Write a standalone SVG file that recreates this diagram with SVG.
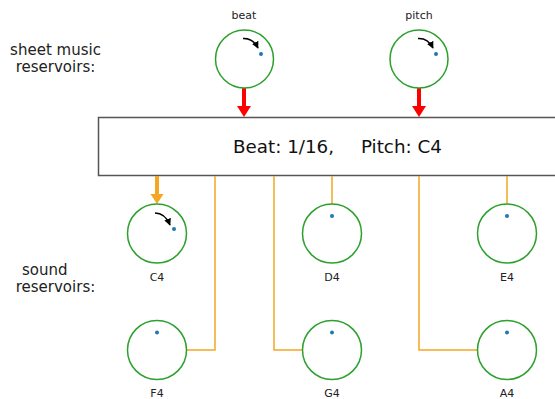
<svg xmlns="http://www.w3.org/2000/svg" width="555" height="399" viewBox="0 0 555 399">
<style>
.res{fill:none;stroke:#2ca02c;stroke-width:1.5}
.dot{fill:#1f77b4}
.lbl{font-family:"DejaVu Sans",sans-serif;font-size:11px;fill:#222;text-anchor:middle}
.side{font-family:"DejaVu Sans",sans-serif;font-size:15px;fill:#222;text-anchor:middle}
.main{font-family:"DejaVu Sans",sans-serif;font-size:18.3px;fill:#111}
.wire{fill:none;stroke:#f5a623;stroke-width:1.5}
.curl{fill:none;stroke:#000;stroke-width:1.5}
</style>
<defs>
<marker id="ah" viewBox="0 0 10 10" refX="9" refY="5" markerWidth="7" markerHeight="7" markerUnits="userSpaceOnUse" orient="auto">
<path d="M0,0 L10,5 L0,10 z" fill="#000"/>
</marker>
</defs>
<text class="side" x="55.5" y="55">sheet music</text>
<text class="side" x="55.5" y="72">reservoirs:</text>
<text class="side" x="22" y="275" style="text-anchor:start">sound</text>
<text class="side" x="55.5" y="292">reservoirs:</text>

<g id="box">
<rect x="98.5" y="117.5" width="470" height="58" fill="#fff" stroke="#555" stroke-width="1.5"/>
<text class="main" x="233" y="153">Beat: 1/16,</text>
<text class="main" x="361" y="153">Pitch: C4</text>
</g>

<g id="connectors">
<path d="M244,88 V108" stroke="#f00" stroke-width="4" fill="none"/>
<path d="M237,106 L251,106 L244,117 z" fill="#f00"/>
<path d="M419,88 V108" stroke="#f00" stroke-width="4" fill="none"/>
<path d="M412,106 L426,106 L419,117 z" fill="#f00"/>
<path d="M157,176 V195" stroke="#f5a623" stroke-width="4" fill="none"/>
<path d="M150.5,194 L163.5,194 L157,204 z" fill="#f5a623"/>
<path class="wire" d="M215,176 V350 H186.5"/>
<path class="wire" d="M274,176 V350 H302.5"/>
<path class="wire" d="M332,176 V204"/>
<path class="wire" d="M419,176 V350 H477.5"/>
<path class="wire" d="M507,176 V204"/>
</g>

<g id="beat">
<text class="lbl" x="244" y="19">beat</text>
<circle class="res" cx="244.5" cy="59" r="29"/>
<circle class="dot" cx="261" cy="54" r="2"/>
<path class="curl" d="M243,38.5 Q253,38 258,48" marker-end="url(#ah)"/>
</g>
<g id="pitch">
<text class="lbl" x="419" y="19">pitch</text>
<circle class="res" cx="419" cy="59" r="29"/>
<circle class="dot" cx="436" cy="54" r="2"/>
<path class="curl" d="M418,38.5 Q428,38 433,48" marker-end="url(#ah)"/>
</g>

<g id="C4">
<circle class="res" cx="157" cy="233.5" r="29.5"/>
<circle class="dot" cx="174" cy="229" r="2"/>
<path class="curl" d="M155,213 Q165,213 170,225" marker-end="url(#ah)"/>
<text class="lbl" x="157" y="281">C4</text>
</g>
<g id="D4">
<circle class="res" cx="332" cy="233.5" r="29.5"/>
<circle class="dot" cx="332" cy="216" r="2"/>
<text class="lbl" x="332" y="281">D4</text>
</g>
<g id="E4">
<circle class="res" cx="507" cy="233.5" r="29.5"/>
<circle class="dot" cx="507" cy="216" r="2"/>
<text class="lbl" x="507" y="281">E4</text>
</g>
<g id="F4">
<circle class="res" cx="157" cy="350" r="29.5"/>
<circle class="dot" cx="157" cy="332.5" r="2"/>
<text class="lbl" x="157" y="397">F4</text>
</g>
<g id="G4">
<circle class="res" cx="332" cy="350" r="29.5"/>
<circle class="dot" cx="332" cy="332.5" r="2"/>
<text class="lbl" x="332" y="397">G4</text>
</g>
<g id="A4">
<circle class="res" cx="507" cy="350" r="29.5"/>
<circle class="dot" cx="507" cy="332.5" r="2"/>
<text class="lbl" x="507" y="397">A4</text>
</g>
</svg>
